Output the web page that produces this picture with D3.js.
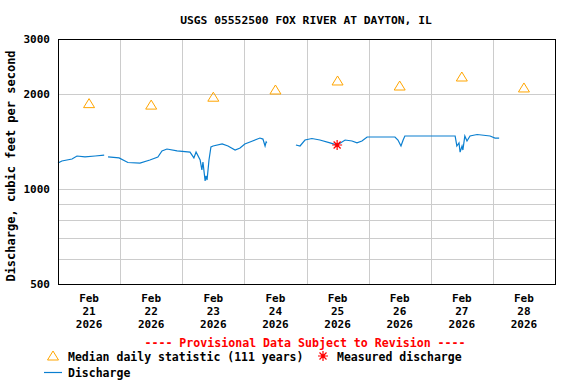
<!DOCTYPE html>
<html>
<head>
<meta charset="utf-8">
<script src="https://cdn.jsdelivr.net/npm/d3@7"></script>
<style>
  body { margin: 0; background: #fff; }
  text { font-family: "DejaVu Sans Mono", monospace; font-weight: bold; }
</style>
</head>
<body>
<div id="container"></div>
<script>
// discharge readings, null = gap in record
let dischargeData = [
  ["2026-02-21 00:00", 1211], ["2026-02-21 01:30", 1229], ["2026-02-21 05:25", 1247],
  ["2026-02-21 07:20", 1275], ["2026-02-21 10:25", 1266], ["2026-02-21 14:20", 1275],
  ["2026-02-21 17:50", 1284], ["2026-02-21 18:30", null],
  ["2026-02-21 19:20", 1266], ["2026-02-21 23:35", 1257], ["2026-02-22 03:00", 1216],
  ["2026-02-22 07:40", 1211], ["2026-02-22 11:30", 1238], ["2026-02-22 14:35", 1266],
  ["2026-02-22 16:10", 1323], ["2026-02-22 18:05", 1342], ["2026-02-22 22:00", 1323],
  ["2026-02-23 03:00", 1312], ["2026-02-23 04:30", 1257], ["2026-02-23 05:20", 1312],
  ["2026-02-23 06:55", 1238], ["2026-02-23 07:35", 1151], ["2026-02-23 08:00", 1220],
  ["2026-02-23 08:50", 1062], ["2026-02-23 09:10", 1102], ["2026-02-23 09:35", 1070],
  ["2026-02-23 10:20", 1238], ["2026-02-23 11:05", 1362], ["2026-02-23 11:55", 1372],
  ["2026-02-23 15:25", 1392], ["2026-02-23 17:40", 1372], ["2026-02-23 20:25", 1332],
  ["2026-02-23 22:20", 1352], ["2026-02-24 00:10", 1392], ["2026-02-24 02:10", 1413],
  ["2026-02-24 06:00", 1454], ["2026-02-24 07:10", 1443], ["2026-02-24 08:00", 1372],
  ["2026-02-24 08:25", 1413], ["2026-02-24 08:40", 1403], ["2026-02-24 12:00", null],
  ["2026-02-24 19:55", 1382], ["2026-02-24 21:30", 1372], ["2026-02-24 23:25", 1433],
  ["2026-02-25 02:05", 1449], ["2026-02-25 05:10", 1433], ["2026-02-25 09:05", 1403],
  ["2026-02-25 11:50", 1382], ["2026-02-25 14:55", 1433], ["2026-02-25 17:35", 1423],
  ["2026-02-25 19:30", 1403], ["2026-02-25 21:25", 1423], ["2026-02-25 23:25", 1465],
  ["2026-02-26 10:10", 1465], ["2026-02-26 11:20", 1433], ["2026-02-26 12:30", 1372],
  ["2026-02-26 13:20", 1433], ["2026-02-26 14:00", 1476], ["2026-02-27 09:25", 1476],
  ["2026-02-27 10:05", 1372], ["2026-02-27 10:55", 1403], ["2026-02-27 11:20", 1312],
  ["2026-02-27 12:05", 1372], ["2026-02-27 12:25", 1332], ["2026-02-27 13:10", 1476],
  ["2026-02-27 14:00", 1423], ["2026-02-27 15:10", 1476], ["2026-02-27 17:55", 1492],
  ["2026-02-27 22:55", 1476], ["2026-02-28 00:50", 1454], ["2026-02-28 02:25", 1454]
];

let medianDays = ["2026-02-21", "2026-02-22", "2026-02-23", "2026-02-24",
                  "2026-02-25", "2026-02-26", "2026-02-27", "2026-02-28"];
let medianValues = [1870, 1850, 1960, 2066, 2207, 2127, 2272, 2097];

let measured = [["2026-02-25 11:50", 1382]];

let yTickValues = [500, 1000, 2000, 3000];
let yGridValues = [600, 700, 800, 900, 1000, 2000];

let w = 576;
let h = 384;
let padLeft = 58, padRight = 555, padTop = 39, padBottom = 284;

let parseT = d3.timeParse("%Y-%m-%d %H:%M");
let parseD = d3.timeParse("%Y-%m-%d");

let viz = d3.select("#container")
  .append("svg")
    .attr("width", w)
    .attr("height", h);

let xScale = d3.scaleTime()
  .domain([parseD("2026-02-21"), parseD("2026-03-01")])
  .range([padLeft, padRight]);
let yScale = d3.scaleLog().domain([500, 3000]).range([padBottom, padTop]);

// title
viz.append("text")
  .attr("x", 306).attr("y", 24)
  .attr("text-anchor", "middle")
  .attr("font-size", 11.3)
  .text("USGS 05552500 FOX RIVER AT DAYTON, IL");

// grid
let days = d3.timeDay.range(parseD("2026-02-22"), parseD("2026-03-01"));
viz.append("g").selectAll("line").data(days).enter().append("line")
  .attr("x1", d => Math.round(xScale(d)) + 0.5)
  .attr("x2", d => Math.round(xScale(d)) + 0.5)
  .attr("y1", padTop).attr("y2", padBottom)
  .attr("stroke", "#cccccc");
viz.append("g").selectAll("line").data(yGridValues).enter().append("line")
  .attr("x1", padLeft).attr("x2", padRight)
  .attr("y1", d => Math.round(yScale(d)) + 0.5)
  .attr("y2", d => Math.round(yScale(d)) + 0.5)
  .attr("stroke", "#cccccc");

// y tick labels
viz.append("g").selectAll("text").data(yTickValues).enter().append("text")
  .attr("x", padLeft - 8)
  .attr("y", d => yScale(d) + 4)
  .attr("text-anchor", "end")
  .attr("font-size", 11)
  .text(d => d);

// x labels at noon
let labelDays = medianDays.map(parseD);
let xLabels = viz.append("g").selectAll("text").data(labelDays).enter().append("text")
  .attr("text-anchor", "middle")
  .attr("font-size", 11)
  .attr("transform", d => "translate(" + xScale(d3.timeHour.offset(d, 12)) + ",0)");
xLabels.append("tspan").attr("x", 0).attr("y", 302).text(d3.timeFormat("%b"));
xLabels.append("tspan").attr("x", 0).attr("y", 315).text(d3.timeFormat("%d"));
xLabels.append("tspan").attr("x", 0).attr("y", 328).text(d3.timeFormat("%Y"));

// y axis title
viz.append("text")
  .attr("transform", "translate(15," + 166 + ") rotate(-90)")
  .attr("text-anchor", "middle")
  .attr("font-size", 12)
  .text("Discharge, cubic feet per second");

// discharge line
let lineMaker = d3.line()
  .defined(d => d[1] != null)
  .x(d => xScale(parseT(d[0])))
  .y(d => yScale(d[1]));
viz.append("path")
  .datum(dischargeData)
  .attr("d", lineMaker)
  .attr("fill", "none")
  .attr("stroke", "#0a7fd0")
  .attr("stroke-width", 1.2);

// median triangles
let tri = "M0,-5L5.5,4L-5.5,4Z";
viz.append("g").selectAll("path").data(medianValues).enter().append("path")
  .attr("d", tri)
  .attr("transform", (d, i) => "translate(" + xScale(d3.timeHour.offset(labelDays[i], 12)) + "," + yScale(d) + ")")
  .attr("fill", "none")
  .attr("stroke", "#ffa500")
  .attr("stroke-width", 1);

// measured star
function star(g) {
  g.append("path")
    .attr("d", "M-5,0L5,0M0,-5L0,5M-3.5,-3.5L3.5,3.5M-3.5,3.5L3.5,-3.5")
    .attr("stroke", "#ff0000").attr("stroke-width", 1.2);
  g.append("circle").attr("r", 1.8).attr("fill", "#ff0000");
}
viz.append("g").selectAll("g").data(measured).enter().append("g")
  .attr("transform", d => "translate(" + xScale(parseT(d[0])) + "," + yScale(d[1]) + ")")
  .each(function() { star(d3.select(this)); });

// plot frame
viz.append("rect")
  .attr("x", padLeft + 0.5).attr("y", padTop + 0.5)
  .attr("width", padRight - padLeft).attr("height", padBottom - padTop)
  .attr("fill", "none").attr("stroke", "#000");

// provisional note
viz.append("text")
  .attr("x", 305).attr("y", 347)
  .attr("text-anchor", "middle")
  .attr("font-size", 11.6)
  .attr("fill", "#ff0000")
  .text("---- Provisional Data Subject to Revision ----");

// legend
viz.append("path").attr("d", tri)
  .attr("transform", "translate(53,356)")
  .attr("fill", "none").attr("stroke", "#ffa500");
viz.append("text").attr("x", 68).attr("y", 361).attr("font-size", 11.5)
  .text("Median daily statistic (111 years)");
star(viz.append("g").attr("transform", "translate(323,356)"));
viz.append("text").attr("x", 337).attr("y", 361).attr("font-size", 11.5)
  .text("Measured discharge");
viz.append("line").attr("x1", 44).attr("x2", 62).attr("y1", 372.5).attr("y2", 372.5)
  .attr("stroke", "#0a7fd0").attr("stroke-width", 1.2);
viz.append("text").attr("x", 68).attr("y", 377).attr("font-size", 11.5)
  .text("Discharge");
</script>
</body>
</html>
